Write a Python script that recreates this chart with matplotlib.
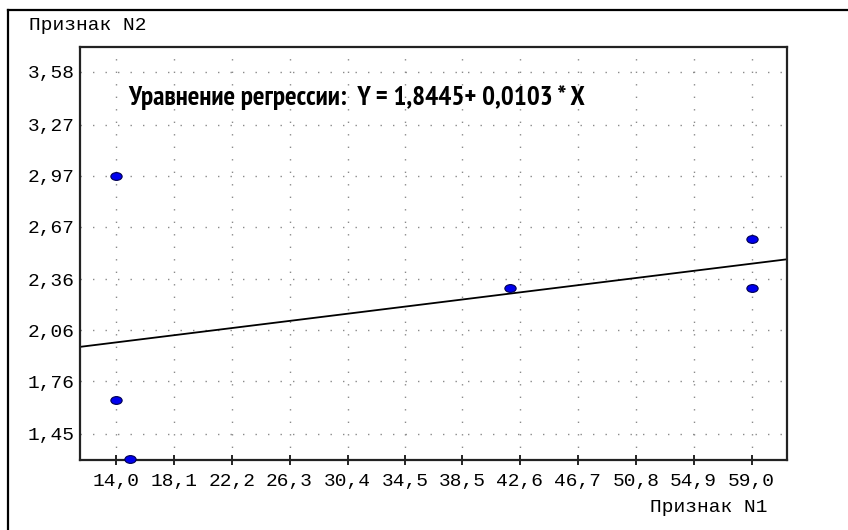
import matplotlib
matplotlib.use("Agg")
import matplotlib.pyplot as plt
from matplotlib.markers import MarkerStyle
from matplotlib.transforms import Affine2D
from matplotlib.lines import Line2D
import numpy as np

# Observations: feature N1 (x) and feature N2 (y)
feature_n1 = [14.0, 14.0, 15.0, 41.9, 59.0, 59.0]
feature_n2 = [2.97, 1.65, 1.30, 2.31, 2.60, 2.31]

# Regression coefficients, Y = a + b * X
intercept = 1.8445
slope = 0.0103

x_ticks = [14.0, 18.1, 22.2, 26.3, 30.4, 34.5, 38.5, 42.6, 46.7, 50.8, 54.9, 59.0]
y_ticks = [1.45, 1.76, 2.06, 2.36, 2.67, 2.97, 3.27, 3.58]
x_limits = (11.47, 61.5)
y_limits = (1.297, 3.727)

W, H = 848, 530
fig = plt.figure(figsize=(W / 100, H / 100), dpi=100)
fig.patch.set_facecolor("white")

# axes box in pixel coordinates
left, right, top, bottom = 80, 787, 47, 460
ax = fig.add_axes([left / W, 1 - bottom / H, (right - left) / W, (bottom - top) / H])
ax.set_xlim(*x_limits)
ax.set_ylim(*y_limits)

# outer frame (left and top edges visible)
fig.add_artist(Line2D([8 / W, 8 / W], [0, 1 - 10 / H], transform=fig.transFigure,
                      color="black", lw=1.6))
fig.add_artist(Line2D([8 / W, 1], [1 - 10 / H, 1 - 10 / H], transform=fig.transFigure,
                      color="black", lw=1.6))

for s in ax.spines.values():
    s.set_linewidth(1.6)
    s.set_color("#222222")

mono = "Liberation Mono"
mono_size = 14.0

# dotted grid at tick positions
for xv in x_ticks:
    ax.axvline(xv, color="#8a8a8a", lw=1.0, ls=(0, (1, 8)), zorder=0)
for yv in y_ticks:
    ax.axhline(yv, color="#8a8a8a", lw=1.0, ls=(0, (1, 8)), zorder=0)

ax.set_xticks(x_ticks)
ax.set_xticklabels([f"{v:.1f}".replace(".", ",") for v in x_ticks],
                   fontfamily=mono, fontsize=mono_size)
ax.set_yticks(y_ticks)
ax.set_yticklabels([f"{v:.2f}".replace(".", ",") for v in y_ticks],
                   fontfamily=mono, fontsize=mono_size)
ax.tick_params(axis="x", direction="inout", length=7, width=1.2, color="black", pad=6)
ax.tick_params(axis="y", length=0, pad=4)

# regression line
xs = np.array(x_limits)
ax.plot(xs, intercept + slope * xs, color="black", lw=1.3, zorder=2)

# data points as flattened blue ellipses
ell = MarkerStyle("o", transform=Affine2D().scale(1.45, 1.0))
ax.plot(feature_n1, feature_n2, ls="none", marker=ell, markersize=5.6,
        markerfacecolor="#0000ee", markeredgecolor="#000050", markeredgewidth=0.8,
        clip_on=False, zorder=3)

# regression equation in a narrow bold face, sized to its box width
eq = f"Уравнение регрессии:  Y = {intercept:.4f}+ {slope:.4f} * X".replace(".", ",")
eq_text = ax.text(128 / W, 1 - 98 / H, eq, transform=fig.transFigure, ha="left",
                  va="center",
                  family=["PT Sans Narrow", "Roboto Condensed", "Sofia Sans Condensed",
                          "DejaVu Sans"],
                  fontweight="bold", fontsize=16)
renderer = fig.canvas.get_renderer()
eq_width = eq_text.get_window_extent(renderer).width
eq_text.set_fontsize(16 * 460 / eq_width)

# axis titles
fig.text(29 / W, 1 - 26 / H, "Признак N2", ha="left", va="center",
         fontfamily=mono, fontsize=mono_size)
fig.text(768 / W, 1 - 508 / H, "Признак N1", ha="right", va="center",
         fontfamily=mono, fontsize=mono_size)

fig.savefig("out.png", dpi=100, facecolor="white")
